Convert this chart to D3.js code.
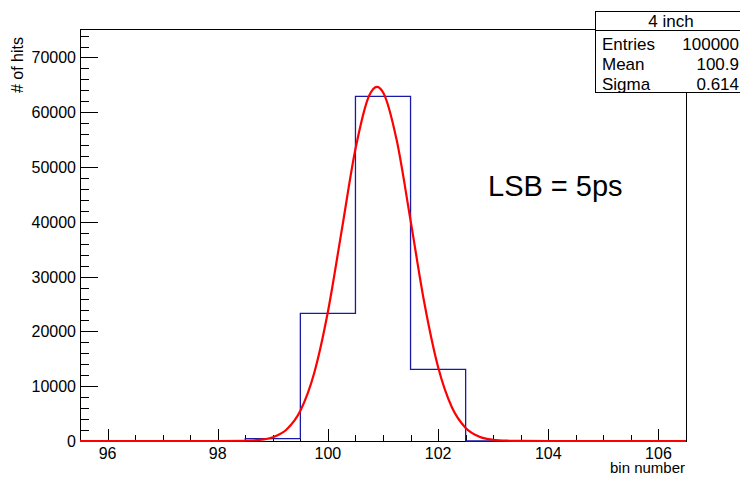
<!DOCTYPE html>
<html>
<head>
<meta charset="utf-8">
<title>4 inch</title>
<script src="https://cdn.jsdelivr.net/npm/d3@7"></script>
<style>
  body { margin: 0; background: #fff; }
  text { font-family: "Liberation Sans", Arial, sans-serif; fill: #000; }
</style>
</head>
<body>
<script>
// histogram bins (bin centre, hits)
var binCenters = [96, 97, 98, 99, 100, 101, 102, 103, 104, 105, 106];
var binCounts  = [0, 0, 0, 420, 23300, 62900, 13080, 0, 0, 0, 0];

// gaussian fit curve
var fitX = [95.5, 97, 98, 98.5, 98.75, 99, 99.25, 99.5, 99.75, 100, 100.25, 100.5, 100.75, 100.89,
            101, 101.25, 101.5, 101.75, 102, 102.25, 102.5, 102.75, 103, 103.25, 103.5, 104, 105, 106.5];
var fitY = [0, 0, 0, 45, 190, 690, 2110, 5530, 12370, 23600, 38400, 53280, 63060, 64650,
            63660, 54830, 40270, 25220, 13490, 6150, 2390, 790, 224, 54, 11, 0, 0, 0];

var xTicks = [96, 98, 100, 102, 104, 106];
var yTicks = [0, 10000, 20000, 30000, 40000, 50000, 60000, 70000];

var statsTitle = "4 inch";
var statsRows = [["Entries", "100000"], ["Mean", "100.9"], ["Sigma", "0.614"]];

var chart = function () {
    var W = 740, H = 477;
    var m = { left: 80, right: 686, top: 29, bottom: 441 };

    var svg = d3.select("body").append("svg")
        .attr("width", W).attr("height", H);

    var x = d3.scaleLinear().domain([95.5, 106.5]).range([m.left, m.right]);
    var y = d3.scaleLinear().domain([0, 75200]).range([m.bottom, m.top]);

    // frame
    svg.append("rect")
        .attr("x", m.left + 0.5).attr("y", m.top + 0.5)
        .attr("width", m.right - m.left).attr("height", m.bottom - m.top)
        .attr("fill", "none").attr("stroke", "#000").attr("stroke-width", 1);

    // x axis ticks
    var xMinor = d3.range(95.5, 106.51, 0.5);
    svg.append("g").selectAll("line").data(xMinor).enter().append("line")
        .attr("x1", function (d) { return Math.round(x(d)) + 0.5; })
        .attr("x2", function (d) { return Math.round(x(d)) + 0.5; })
        .attr("y1", m.bottom)
        .attr("y2", function (d) { return d % 2 === 0 ? m.bottom - 12 : m.bottom - 6; })
        .attr("stroke", "#000");

    svg.append("g").selectAll("text").data(xTicks).enter().append("text")
        .attr("x", function (d) { return x(d); })
        .attr("y", 459)
        .attr("text-anchor", "middle")
        .attr("font-size", 16)
        .text(function (d) { return d; });

    // y axis ticks
    var yMinor = d3.range(0, 75001, 2000);
    svg.append("g").selectAll("line").data(yMinor).enter().append("line")
        .attr("y1", function (d) { return Math.round(y(d)) + 0.5; })
        .attr("y2", function (d) { return Math.round(y(d)) + 0.5; })
        .attr("x1", m.left)
        .attr("x2", function (d) { return d % 10000 === 0 ? m.left + 18 : m.left + 9; })
        .attr("stroke", "#000");

    svg.append("g").selectAll("text").data(yTicks).enter().append("text")
        .attr("x", 76)
        .attr("y", function (d) { return y(d) + 6; })
        .attr("text-anchor", "end")
        .attr("font-size", 16)
        .text(function (d) { return d; });

    // axis titles
    svg.append("text")
        .attr("transform", "translate(23,37) rotate(-90)")
        .attr("text-anchor", "end")
        .attr("font-size", 16)
        .text("# of hits");

    svg.append("text")
        .attr("x", 685).attr("y", 473)
        .attr("text-anchor", "end")
        .attr("font-size", 15)
        .text("bin number");

    // histogram outline
    var steps = [];
    binCenters.forEach(function (c, i) {
        steps.push([c - 0.5, binCounts[i]]);
        steps.push([c + 0.5, binCounts[i]]);
    });

    var stepLine = d3.line()
        .x(function (d) { return x(d[0]); })
        .y(function (d) { return y(d[1]); });

    svg.append("path")
        .attr("d", stepLine(steps))
        .attr("fill", "none")
        .attr("stroke", "#1a1aa8")
        .attr("stroke-width", 1.3);

    // fit
    var fitLine = d3.line()
        .x(function (d) { return x(d[0]); })
        .y(function (d) { return y(d[1]); })
        .curve(d3.curveMonotoneX);

    svg.append("path")
        .attr("d", fitLine(fitX.map(function (v, i) { return [v, fitY[i]]; })))
        .attr("fill", "none")
        .attr("stroke", "#ff0000")
        .attr("stroke-width", 2.2);

    // annotation
    svg.append("text")
        .attr("x", 488).attr("y", 196)
        .attr("font-size", 29)
        .text("LSB = 5ps");

    // stats box
    var sb = svg.append("g");
    sb.append("rect")
        .attr("x", 595.5).attr("y", 11.5)
        .attr("width", 150).attr("height", 81)
        .attr("fill", "#fff").attr("stroke", "#000");
    sb.append("line")
        .attr("x1", 595).attr("x2", 740)
        .attr("y1", 30.5).attr("y2", 30.5)
        .attr("stroke", "#000");
    sb.append("text")
        .attr("x", 671).attr("y", 27)
        .attr("text-anchor", "middle")
        .attr("font-size", 17)
        .text(statsTitle);
    statsRows.forEach(function (r, i) {
        var yy = 50 + i * 20;
        sb.append("text").attr("x", 602).attr("y", yy).attr("font-size", 17).text(r[0]);
        sb.append("text").attr("x", 739).attr("y", yy).attr("text-anchor", "end").attr("font-size", 17).text(r[1]);
    });
};

chart();
</script>
</body>
</html>
